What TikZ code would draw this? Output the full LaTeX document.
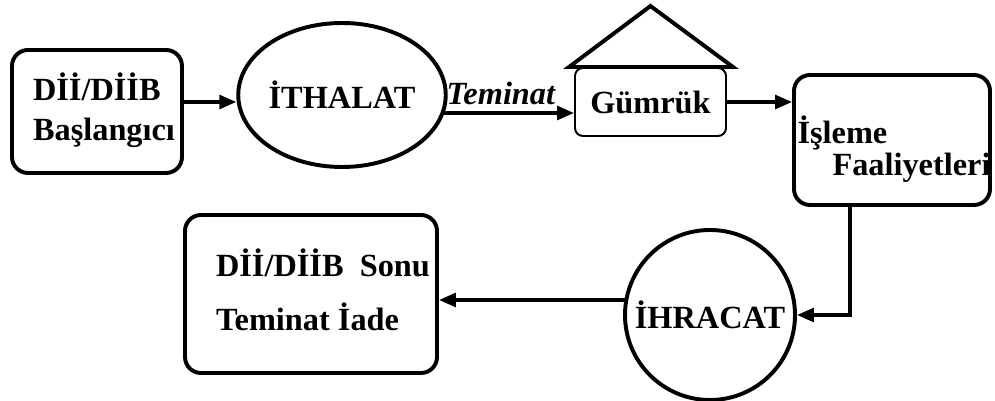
\documentclass[tikz,border=0pt]{standalone}
\usepackage{fontspec}
\setmainfont{Liberation Serif}
\usepackage{tikz}
\newcommand{\boxline}{2.8pt}
\newcommand{\arrowline}{2.5pt}
\usetikzlibrary{arrows.meta,calc,positioning,shapes.geometric}
\tikzset{
  >={Triangle[length=0.42cm,width=0.34cm]},
  font=\fontsize{23}{28.5}\selectfont\bfseries,
  rbox/.style={draw,line width=\boxline,shape=rectangle,rounded corners=0.4cm,inner sep=1mm},
  oval/.style={draw,line width=\boxline,shape=ellipse,inner sep=0},
  ring/.style={draw,line width=\boxline,shape=circle,inner sep=0},
  gbox/.style={draw,line width=1.4pt,shape=rectangle,rounded corners=0.2cm,inner sep=1mm},
  line/.style={draw,->,line width=\arrowline},
}

\begin{document}
\begin{tikzpicture}
      \useasboundingbox (0,0) rectangle (24.875,10.025);
      % top row
      \node (basla) [rbox,minimum width=4.25cm,minimum height=3.075cm] at (2.425,7.2375) {};
      \node (baslayazi) [align=left,inner sep=0] at (2.6,7.275) {Dİİ/DİİB\\Başlangıcı};
      \node (ithalat) [oval,minimum width=4.25cm,minimum height=3.6cm] at (8.55,7.65) {İTHALAT};
      \node (gumruk) [gbox,minimum width=3.775cm,minimum height=1.7cm] at (16.2625,7.475) {Gümrük};
      \coordinate (tepe) at ($(gumruk.north)+(0,1.525)$);
      \coordinate (catisol) at ($(gumruk.north west)+(-0.125,0)$);
      \coordinate (catisag) at ($(gumruk.north east)+(0.15,0)$);
      \draw [line width=\boxline] (catisol) -- (tepe) -- (catisag) -- cycle;
      \node (isleme) [rbox,minimum width=4.9cm,minimum height=3.25cm] at (22.3,6.525) {};
      \node (islemeyazi) [align=left,inner sep=0] at (22.35,6.3) {İşleme\\[-6pt]\hspace*{0.875cm}Faaliyetleri};
      % bottom row
      \node (ihracat) [ring,minimum size=4.25cm] at (17.75,2.15) {İHRACAT};
      \node (sonu) [rbox,minimum width=6.3cm,minimum height=3.95cm] at (7.775,2.675) {};
      \node (sonuyazi) [align=left,inner sep=0] at (8.075,2.775) {Dİİ/DİİB~~Sonu\\[9.5pt]Teminat İade};
      % connectors
      \coordinate (teminat) at ($(gumruk.west)+(0,-0.275)$);
      \coordinate (donus) at ($(isleme.south)+(-1.05,0)$);
      \coordinate (iade) at ($(sonu.east)+(0,-0.15)$);
      \path [line] (basla.east |- gumruk) -- (ithalat.west |- gumruk);
      \path [line] ($(ithalat.east |- teminat)+(-0.1,0)$) -- (teminat) node[midway,above,xshift=-0.2cm,inner sep=4.5pt,font=\fontsize{23}{28.5}\selectfont\bfseries\itshape]{Teminat};
      \path [line] (gumruk.east) -- (isleme.west |- gumruk.east);
      \path [line] (donus) |- (ihracat.east);
      \path [line] ($(ihracat.west |- iade)+(0.05,0)$) -- (iade);
    \end{tikzpicture}
\end{document}
